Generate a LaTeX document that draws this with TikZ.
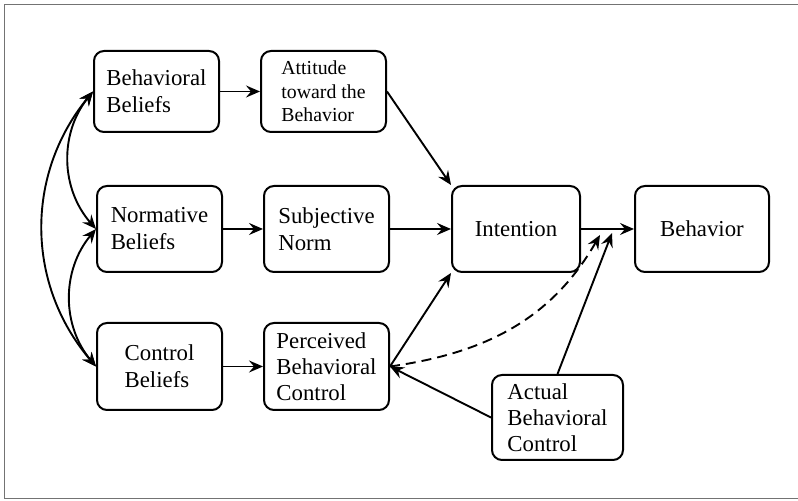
\documentclass[tikz,border=0pt]{standalone}
\usepackage{fontspec}
\setmainfont{Liberation Serif}
\usetikzlibrary{arrows.meta,calc}
\begin{document}
\begin{tikzpicture}[x=0.5pt,y=-0.5pt,
  box/.style={draw,line width=1pt,rounded corners=5pt,inner sep=0pt,align=left,
    font=\fontsize{11.4}{13.5}\selectfont,minimum width=62.5pt,minimum height=42pt},
  smallbox/.style={box,font=\fontsize{9.9}{11.75}\selectfont},
  tipstyle/.style={line width=0.95pt},
  arr/.style={tipstyle,-{Stealth[length=7pt,width=6pt,inset=2.5pt]}},
  dblarr/.style={tipstyle,{Stealth[length=7pt,width=6pt,inset=2.5pt]}-{Stealth[length=7pt,width=6pt,inset=2.5pt]}},
  frame/.style={draw=black!55,line width=0.5pt}]
\useasboundingbox (0,0) rectangle (798,501);
\draw[frame] (800,5) -- (4,5) -- (4,499) -- (800,499);

\node[box,minimum height=40.5pt] (bb) at (156.5,91.5) {Behavioral\\Beliefs};
\node[smallbox,minimum height=40.5pt] (att) at (323.5,91.5) {Attitude\\toward the\\Behavior};
\node[box,minimum height=43pt] (nb) at (159.5,229) {Normative\\Beliefs};
\node[box,minimum height=43pt] (sn) at (326.5,229) {Subjective\\Norm};
\node[box,minimum height=43.5pt] (cb) at (159.5,366.5) {Control\\Beliefs};
\node[box,minimum height=43.5pt,font=\fontsize{11.4}{13}\selectfont] (pbc) at (326.5,366.5) {Perceived\\Behavioral\\Control};
\node[box,minimum width=64pt,minimum height=43pt] (int) at (516,229) {Intention};
\node[box,minimum width=67pt,minimum height=43pt] (beh) at (702,229) {Behavior};
\node[box,minimum width=65.5pt,minimum height=42.5pt,font=\fontsize{11.4}{13}\selectfont] (abc) at (557.5,417.5) {Actual\\Behavioral\\Control};

\coordinate (ib) at (612,233);
\coordinate (ibd) at (600,235);

\draw[arr] (bb.east) -- (att.west);
\draw[arr] (nb.east) -- (sn.west);
\draw[arr] (cb.east) -- (pbc.west);
\draw[arr] (att.east) -- (int.north west);
\draw[arr] (sn.east) -- (int.west);
\draw[arr] (pbc.east) -- (int.south west);
\draw[arr] (int.east) -- (beh.west);
\draw[arr] (abc.west) -- (pbc.east);
\draw[arr] (abc.north) -- (ib);
\draw[arr,dashed,dash pattern=on 5pt off 3pt] (pbc.east) to[out=8,in=-120] (ibd);

\draw[dblarr] (bb.west) to[bend right=40] (nb.west);
\draw[dblarr] (nb.west) to[bend right=40] (cb.west);
\draw[dblarr] (bb.west) to[bend right=40] (cb.west);
\end{tikzpicture}
\end{document}
